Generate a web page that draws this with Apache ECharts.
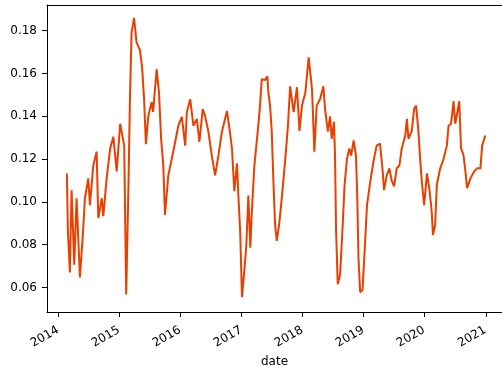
<!DOCTYPE html>
<html>
<head>
<meta charset="utf-8">
<script src="https://cdn.jsdelivr.net/npm/echarts@6/dist/echarts.min.js"></script>
<style>
html,body{margin:0;padding:0;background:#fff;}
#chart{width:502px;height:373px;}
</style>
</head>
<body>
<div id="chart"></div>
<script>
const dates = [
'2014-02-20','2014-02-26','2014-03-10','2014-03-20','2014-04-05','2014-04-19','2014-05-09','2014-05-28','2014-06-08','2014-06-28',
'2014-07-08','2014-07-28','2014-08-17','2014-08-27','2014-09-17','2014-09-26','2014-10-16','2014-11-06','2014-11-25','2014-12-15',
'2015-01-05','2015-01-15','2015-01-29','2015-02-10','2015-02-24','2015-03-04','2015-03-14','2015-03-29','2015-04-13','2015-05-03',
'2015-05-16','2015-05-28','2015-06-08','2015-06-22','2015-07-12','2015-07-21','2015-08-11','2015-08-25','2015-09-07','2015-09-20',
'2015-09-30','2015-10-20','2015-11-10','2015-11-30','2015-12-19','2016-01-09','2016-01-29','2016-02-08','2016-02-28','2016-03-18',
'2016-04-08','2016-04-23','2016-05-13','2016-05-27','2016-06-16','2016-07-06','2016-07-26','2016-08-15','2016-09-05','2016-10-05',
'2016-10-20','2016-11-04','2016-11-18','2016-12-04','2016-12-13','2016-12-23','2017-01-03','2017-01-17','2017-01-29','2017-02-10',
'2017-02-22','2017-03-02','2017-03-18','2017-04-07','2017-04-21','2017-05-01','2017-05-21','2017-06-04','2017-06-10','2017-06-20',
'2017-06-30','2017-07-10','2017-07-20','2017-07-30','2017-08-13','2017-08-29','2017-09-19','2017-10-05','2017-10-18','2017-11-08',
'2017-11-28','2017-12-13','2017-12-28','2018-01-17','2018-02-06','2018-02-26','2018-03-12','2018-03-26','2018-04-15','2018-05-05',
'2018-05-15','2018-06-01','2018-06-14','2018-06-24','2018-07-08','2018-07-14','2018-07-20','2018-07-30','2018-08-13','2018-08-27',
'2018-09-09','2018-09-23','2018-10-07','2018-10-18','2018-11-02','2018-11-16','2018-11-24','2018-12-01','2018-12-11','2018-12-25',
'2019-01-07','2019-01-21','2019-02-10','2019-03-01','2019-03-20','2019-04-09','2019-04-25','2019-05-03','2019-05-19','2019-06-04',
'2019-06-18','2019-07-02','2019-07-18','2019-08-03','2019-08-17','2019-09-07','2019-09-17','2019-09-26','2019-10-16','2019-10-30',
'2019-11-11','2019-11-25','2019-12-05','2019-12-15','2019-12-29','2020-01-15','2020-01-31','2020-02-12','2020-02-20','2020-03-04',
'2020-03-14','2020-04-03','2020-04-23','2020-05-13','2020-05-23','2020-06-07','2020-06-22','2020-07-02','2020-07-16','2020-07-26',
'2020-08-06','2020-08-21','2020-09-01','2020-09-11','2020-10-01','2020-10-24','2020-11-10','2020-11-30','2020-12-10','2020-12-29'
];
const values = [
0.1133,0.0865,0.0670,0.1055,0.0707,0.1017,0.0647,0.0865,0.1017,0.1110,
0.0985,0.1170,0.1235,0.0925,0.1017,0.0934,0.1110,0.1249,0.1305,0.1143,
0.1365,0.1374,0.1263,0.0568,0.1096,0.1466,0.1790,0.1860,0.1744,0.1710,
0.1630,0.1480,0.1270,0.1400,0.1466,0.1420,0.1620,0.1513,0.1295,0.1170,
0.0939,0.1124,0.1203,0.1280,0.1356,0.1397,0.1263,0.1420,0.1480,0.1356,
0.1388,0.1280,0.1434,0.1402,0.1328,0.1217,0.1124,0.1217,0.1328,0.1425,
0.1342,0.1250,0.1050,0.1180,0.1017,0.0865,0.0555,0.0680,0.0800,0.1030,
0.0786,0.0940,0.1170,0.1328,0.1450,0.1573,0.1570,0.1587,0.1510,0.1450,
0.1330,0.1096,0.0893,0.0818,0.0893,0.1017,0.1200,0.1356,0.1540,0.1420,
0.1536,0.1332,0.1450,0.1510,0.1675,0.1527,0.1235,0.1450,0.1480,0.1540,
0.1434,0.1328,0.1400,0.1295,0.1374,0.1200,0.0865,0.0615,0.0660,0.0865,
0.1080,0.1200,0.1250,0.1217,0.1287,0.1217,0.1017,0.0740,0.0578,0.0587,
0.0772,0.0985,0.1096,0.1190,0.1263,0.1272,0.1143,0.1055,0.1124,0.1157,
0.1100,0.1073,0.1157,0.1170,0.1250,0.1310,0.1388,0.1295,0.1332,0.1434,
0.1450,0.1328,0.1200,0.1096,0.0985,0.1133,0.1050,0.0957,0.0846,0.0893,
0.1080,0.1157,0.1200,0.1263,0.1356,0.1365,0.1471,0.1365,0.1425,0.1471,
0.1250,0.1217,0.1143,0.1064,0.1110,0.1143,0.1157,0.1157,0.1263,0.1310
];
const yearTicks = [2014,2015,2016,2017,2018,2019,2020,2021];
const yTicks = [0.06,0.08,0.10,0.12,0.14,0.16,0.18];

const toStamp = (s) => { const p = s.split('-').map(Number); return Date.UTC(p[0], p[1]-1, p[2]); };
const yearStamps = yearTicks.map(y => Date.UTC(y, 0, 1));
const xMin = toStamp('2013-10-24'), xMax = toStamp('2021-04-08');

const chart = echarts.init(document.getElementById('chart'), null, {renderer:'canvas'});
const font = 'DejaVu Sans';
chart.setOption({
  animation:false,
  grid:{left:47, right:0, top:5, bottom:59, show:false, containLabel:false},
  xAxis:[{
    type:'value', position:'bottom',
    min:xMin, max:xMax,
    name:'date', nameLocation:'middle', nameGap:40,
    nameTextStyle:{color:'#000', fontSize:12, fontFamily:font},
    axisLine:{show:true, onZero:false, lineStyle:{color:'#000', width:1}},
    axisTick:{show:true, length:5, lineStyle:{color:'#000'}, customValues:yearStamps},
    axisLabel:{color:'#000', fontSize:12, fontFamily:font, rotate:30, margin:10,
      verticalAlign:'top', align:'right', padding:[0,4,0,0],
      customValues:yearStamps, formatter:(v)=> String(new Date(v).getUTCFullYear())},
    splitLine:{show:false}
  },{
    type:'value', position:'top',
    min:xMin, max:xMax,
    axisLine:{show:true, onZero:false, lineStyle:{color:'#000', width:1}},
    axisTick:{show:false}, axisLabel:{show:false}, splitLine:{show:false}
  }],
  yAxis:{
    type:'value', min:0.0486, max:0.192,
    axisLine:{show:true, onZero:false, lineStyle:{color:'#000', width:1}},
    axisTick:{show:true, length:5, lineStyle:{color:'#000'}, customValues:yTicks},
    axisLabel:{color:'#000', fontSize:12, fontFamily:font, margin:10,
      customValues:yTicks, formatter:(v)=> v.toFixed(2)},
    splitLine:{show:false}
  },
  series:[{
    type:'line', showSymbol:false, symbol:'none', xAxisIndex:0,
    data: dates.map((d,i)=>[toStamp(d), values[i]]),
    lineStyle:{color:'#e84000', width:2},
    itemStyle:{color:'#e84000'}
  }]
});
</script>
</body>
</html>
